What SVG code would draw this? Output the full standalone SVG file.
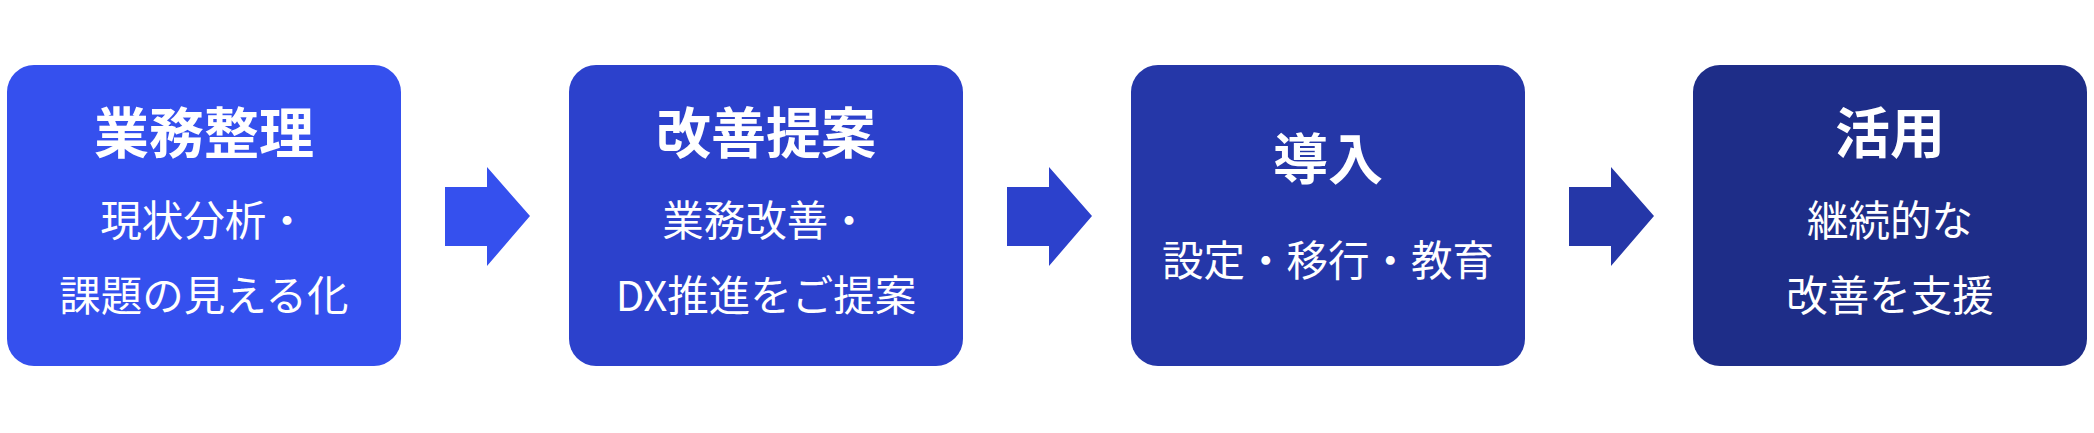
<svg xmlns="http://www.w3.org/2000/svg" width="2094" height="433" viewBox="0 0 2094 433">
<style>
.box{stroke:none}
.t{font-family:"Noto Sans CJK JP","Noto Sans",sans-serif;fill:#ffffff;text-anchor:middle}
.title{font-size:55px;font-weight:700}
.sub{font-size:41.5px;font-weight:400}
</style>
<rect width="2094" height="433" fill="#ffffff"/>
<g id="connectors">
<polygon points="445,187 487,187 487,167 530,216 487,266 487,246 445,246" fill="#3550EE"/>
<polygon points="1007,187 1049,187 1049,167 1092,216 1049,266 1049,246 1007,246" fill="#2C41CC"/>
<polygon points="1569,187 1611,187 1611,167 1654,216 1611,266 1611,246 1569,246" fill="#2537A8"/>
</g>
<g id="node1">
<rect class="box" x="7" y="65" width="394" height="301" rx="27" fill="#3550EE"/>
<text class="t title" x="204" y="153">業務整理</text>
<text class="t sub" x="204" y="236">現状分析・</text>
<text class="t sub" x="204" y="311">課題の見える化</text>
</g>
<g id="node2">
<rect class="box" x="569" y="65" width="394" height="301" rx="27" fill="#2C41CC"/>
<text class="t title" x="766" y="153">改善提案</text>
<text class="t sub" x="766" y="236">業務改善・</text>
<text class="t sub" x="766" y="311">DX推進をご提案</text>
</g>
<g id="node3">
<rect class="box" x="1131" y="65" width="394" height="301" rx="27" fill="#2537A8"/>
<text class="t title" x="1328" y="179">導入</text>
<text class="t sub" x="1328" y="276">設定・移行・教育</text>
</g>
<g id="node4">
<rect class="box" x="1693" y="65" width="394" height="301" rx="27" fill="#1E2D88"/>
<text class="t title" x="1890" y="153">活用</text>
<text class="t sub" x="1890" y="236">継続的な</text>
<text class="t sub" x="1890" y="311">改善を支援</text>
</g>
</svg>
